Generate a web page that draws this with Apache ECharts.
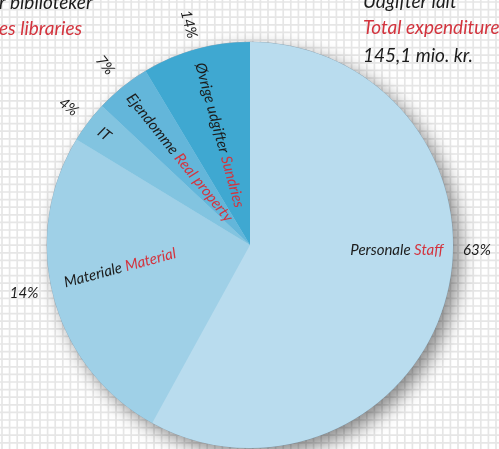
<!DOCTYPE html>
<html><head><meta charset="utf-8">
<script src="https://cdn.jsdelivr.net/npm/echarts@6/dist/echarts.min.js"></script>
<style>html,body{margin:0;padding:0;background:#fff}#c{width:499px;height:449px}</style>
</head><body><div id="c"></div>
<script>
// ---- data ----
const namesDa = ['Personale', 'Materiale', 'IT', 'Ejendomme', 'Øvrige udgifter'];
const namesEn = ['Staff', 'Material', '', 'Real property', 'Sundries'];
const sliceValues = [58.0, 25.7, 3.3, 4.4, 8.6];
const pctLabels = ['63%', '14%', '4%', '7%', '14%'];
const headLeft = ['r biblioteker', 'es libraries'];
const headRight = ['Udgifter ialt', 'Total expenditure', '145,1 mio. kr.'];

// ---- style / layout ----
const sliceColors = ['#b9dcee', '#9fd0e7', '#82c4e0', '#63b6da', '#3fa8d1'];
const CX = 250, CY = 245, R = 203;
const nameLayout = [{r: 147, a: 2}, {r: 132, a: 170}, {r: 183}, {r: 112}, {r: 114}];
const pctLayout = [{r: 227, a: 1.3}, {r: 231, a: 168}, {r: 228}, {r: 231}, {r: 229}];
const FONT = 'Lato, "Open Sans", sans-serif';
const RED = '#d3343e', INK = '#1c1c1c';

function placer(layout) {
  return function (p) {
    const L = layout[p.dataIndex];
    const lr = p.labelRect;
    const ang = L.a != null ? L.a * Math.PI / 180
      : Math.atan2(lr.y + lr.height / 2 - CY, lr.x + lr.width / 2 - CX);
    return {x: CX + L.r * Math.cos(ang), y: CY + L.r * Math.sin(ang)};
  };
}

// grid pattern
const step = 7.6, cells = 5, size = step * cells;
const pc = document.createElement('canvas');
pc.width = size; pc.height = size;
const g = pc.getContext('2d');
g.fillStyle = '#ffffff'; g.fillRect(0, 0, size, size);
g.strokeStyle = '#e6e6e6'; g.lineWidth = 1.7;
for (let i = -1; i <= cells; i++) {
  const v = 2 + i * step;
  g.beginPath(); g.moveTo(v, 0); g.lineTo(v, size); g.stroke();
  g.beginPath(); g.moveTo(0, v); g.lineTo(size, v); g.stroke();
}

const chart = echarts.init(document.getElementById('c'), null, {renderer: 'canvas'});

const headText = (txt, x, y, color) => ({
  type: 'text', x: x, y: y, z: 10, silent: true,
  style: {text: txt, fill: color, fontFamily: FONT, fontStyle: 'italic', fontSize: 19, verticalAlign: 'middle', align: 'left'}
});

chart.setOption({
  animation: false,
  backgroundColor: '#fff',
  graphic: [
    {type: 'rect', z: -10, silent: true, shape: {x: 0, y: 0, width: 499, height: 449},
     style: {fill: {image: pc, repeat: 'repeat'}}},
    headText(headLeft[0], -1, 3, INK),
    headText(headLeft[1], -1, 29, RED),
    headText(headRight[0], 363, 2, INK),
    headText(headRight[1], 363, 28, RED),
    headText(headRight[2], 363, 56, INK)
  ],
  series: [
    {
      type: 'pie', z: 1, silent: true, center: [CX, CY], radius: R,
      data: [{value: 1}], label: {show: false}, labelLine: {show: false},
      emphasis: {disabled: true},
      itemStyle: {color: sliceColors[0], borderColor: 'rgba(110,140,160,0.6)', borderWidth: 1,
        shadowBlur: 18, shadowOffsetX: 7, shadowOffsetY: 7, shadowColor: 'rgba(0,0,0,0.45)'}
    },
    {
      type: 'pie', z: 2, center: [CX, CY], radius: R, startAngle: 90, clockwise: true,
      avoidLabelOverlap: false, emphasis: {disabled: true},
      data: sliceValues.map((v, i) => ({
        value: v, name: namesDa[i],
        itemStyle: {color: sliceColors[i]},
        label: i === 0 ? {rotate: 0} : {}
      })),
      label: {
        show: true, position: 'inside', rotate: 'radial',
        fontFamily: FONT, fontStyle: 'italic', fontSize: 15, color: INK,
        formatter: p => namesDa[p.dataIndex] + (namesEn[p.dataIndex] ? ' {en|' + namesEn[p.dataIndex] + '}' : ''),
        rich: {en: {color: RED, fontFamily: FONT, fontStyle: 'italic', fontSize: 15}}
      },
      labelLine: {show: false},
      labelLayout: placer(nameLayout)
    },
    {
      type: 'pie', z: 3, silent: true, center: [CX, CY], radius: R, startAngle: 90, clockwise: true,
      avoidLabelOverlap: false, emphasis: {disabled: true},
      data: sliceValues.map((v, i) => ({
        value: v, name: pctLabels[i],
        itemStyle: {color: 'rgba(0,0,0,0)'},
        label: (i === 0 || i === 1) ? {rotate: 0} : {}
      })),
      label: {
        show: true, position: 'inside', rotate: 'radial',
        fontFamily: FONT, fontStyle: 'italic', fontSize: 15, color: INK,
        formatter: p => pctLabels[p.dataIndex]
      },
      labelLine: {show: false},
      labelLayout: placer(pctLayout)
    }
  ]
});
</script></body></html>
